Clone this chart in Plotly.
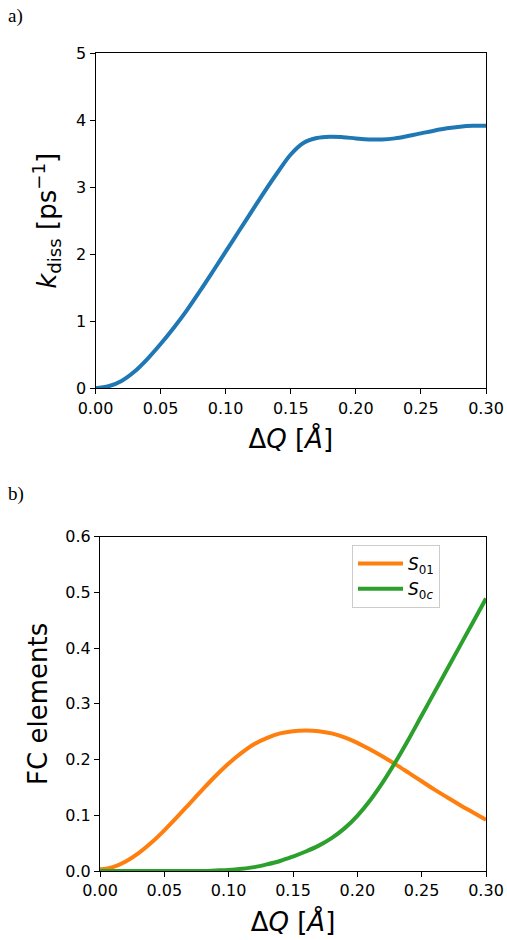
import plotly.graph_objects as go

# ---- data ----
dq = [0.00, 0.01, 0.02, 0.03, 0.04, 0.05, 0.06, 0.07, 0.08, 0.09, 0.10,
      0.11, 0.12, 0.13, 0.14, 0.15, 0.16, 0.17, 0.18, 0.19, 0.20,
      0.21, 0.22, 0.23, 0.24, 0.25, 0.26, 0.27, 0.28, 0.29, 0.30]

k_diss = [0.00, 0.03, 0.11, 0.25, 0.44, 0.66, 0.90, 1.16, 1.445, 1.74, 2.04,
          2.34, 2.64, 2.94, 3.225, 3.49, 3.665, 3.735, 3.755, 3.748, 3.73,
          3.715, 3.713, 3.73, 3.765, 3.805, 3.845, 3.88, 3.905, 3.918, 3.92]

s01 = [0.003, 0.007, 0.017, 0.032, 0.051, 0.073, 0.097, 0.122, 0.147, 0.171, 0.193,
       0.212, 0.228, 0.239, 0.247, 0.251, 0.252, 0.251, 0.247, 0.240, 0.230,
       0.218, 0.205, 0.191, 0.176, 0.161, 0.146, 0.132, 0.118, 0.105, 0.092]

s0c = [0.000, 0.000, 0.000, 0.000, 0.000, 0.000, 0.000, 0.000, 0.000, 0.001, 0.002,
       0.004, 0.007, 0.012, 0.018, 0.026, 0.035, 0.0455, 0.059, 0.0765, 0.099,
       0.127, 0.160, 0.197, 0.237, 0.279, 0.321, 0.363, 0.405, 0.447, 0.489]

x_ticks = [0.00, 0.05, 0.10, 0.15, 0.20, 0.25, 0.30]
x_ticklabels = ["0.00", "0.05", "0.10", "0.15", "0.20", "0.25", "0.30"]
y1_ticks = [0, 1, 2, 3, 4, 5]
y2_ticks = [0.0, 0.1, 0.2, 0.3, 0.4, 0.5, 0.6]
y2_ticklabels = ["0.0", "0.1", "0.2", "0.3", "0.4", "0.5", "0.6"]

# body margin is removed via post_script, so the figure fills the window
W, H = 507, 940
FONT = "DejaVu Sans"


def px_x(p):
    return p / W


def px_y(p):
    return 1 - p / H


fig = go.Figure()
fig.add_trace(go.Scatter(x=dq, y=k_diss, mode="lines",
                         line=dict(color="#1f77b4", width=4, shape="spline", smoothing=1.0),
                         showlegend=False, xaxis="x", yaxis="y"))
fig.add_trace(go.Scatter(x=dq, y=s01, mode="lines",
                         line=dict(color="#ff7f0e", width=4, shape="spline", smoothing=1.0),
                         name="<i>S</i><sub>01</sub>", xaxis="x2", yaxis="y2"))
fig.add_trace(go.Scatter(x=dq, y=s0c, mode="lines",
                         line=dict(color="#2ca02c", width=4, shape="spline", smoothing=1.0),
                         name="<i>S</i><sub>0<i>c</i></sub>", xaxis="x2", yaxis="y2"))

axis_common = dict(showline=True, linecolor="black", linewidth=1, mirror=True,
                   ticks="outside", ticklen=5, tickwidth=1, tickcolor="black",
                   showgrid=False, zeroline=False, automargin=False,
                   tickfont=dict(family=FONT, size=16, color="black"))

xtitle = dict(text="Δ<i>Q</i> [<i>Å</i>]", font=dict(family=FONT, size=26, color="black"), standoff=13)

fig.update_layout(
    width=W, height=H, autosize=False,
    margin=dict(l=0, r=0, t=0, b=0),
    paper_bgcolor="white", plot_bgcolor="white",
    xaxis=dict(domain=[px_x(95.5), px_x(486)], range=[0, 0.30], tickvals=x_ticks, ticktext=x_ticklabels,
               anchor="y", title=xtitle, **axis_common),
    yaxis=dict(domain=[px_y(388.3), px_y(53.3)], range=[0, 5], tickvals=y1_ticks,
               anchor="x",
               title=dict(text="<i>k</i><sub>diss</sub> [ps<sup>−1</sup>]",
                          font=dict(family=FONT, size=26, color="black"), standoff=12),
               **axis_common),
    xaxis2=dict(domain=[px_x(100), px_x(486)], range=[0, 0.30], tickvals=x_ticks, ticktext=x_ticklabels,
                anchor="y2", title=xtitle, **axis_common),
    yaxis2=dict(domain=[px_y(871), px_y(536.7)], range=[0, 0.6], tickvals=y2_ticks,
                ticktext=y2_ticklabels, anchor="x2",
                title=dict(text="FC elements", font=dict(family=FONT, size=26, color="black"), standoff=10),
                **axis_common),
    legend=dict(x=px_x(352), y=px_y(545), xanchor="left", yanchor="top",
                bgcolor="rgba(255,255,255,0.8)", bordercolor="#cccccc", borderwidth=1,
                itemwidth=45, tracegroupgap=4,
                font=dict(family=FONT, size=17, color="black")),
    annotations=[
        dict(text="a)", x=px_x(6), y=px_y(16), xref="paper", yref="paper", xanchor="left", yanchor="middle",
             showarrow=False, font=dict(family="Liberation Serif", size=19, color="black")),
        dict(text="b)", x=px_x(6), y=px_y(494), xref="paper", yref="paper", xanchor="left", yanchor="middle",
             showarrow=False, font=dict(family="Liberation Serif", size=19, color="black")),
    ],
)

fig.write_html("out.html",
               config={"displayModeBar": False},
               post_script="document.body.style.margin='0';document.body.style.overflow='hidden';")
